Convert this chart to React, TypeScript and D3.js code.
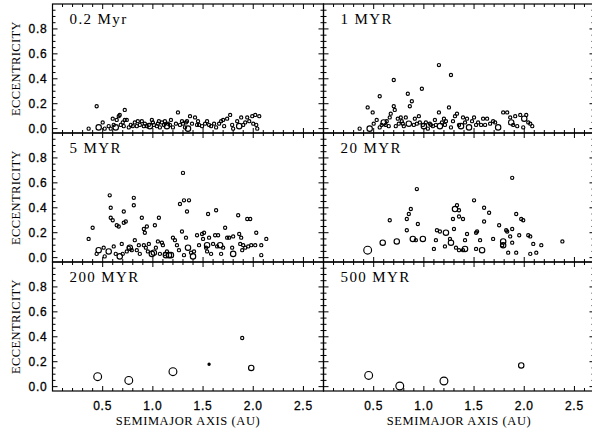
import React from 'react';
import * as d3 from 'd3';

type P = [number, number, number]; // [semimajor axis AU, eccentricity, size class]

const panelTitles = ['0.2 Myr', '1 MYR', '5 MYR', '20 MYR', '200 MYR', '500 MYR'];
const yTickValues = [0, 0.2, 0.4, 0.6, 0.8];
const yTickLabels = ['0.0', '0.2', '0.4', '0.6', '0.8'];
const xTickValues = [0.5, 1.0, 1.5, 2.0, 2.5];
const xTickLabels = ['0.5', '1.0', '1.5', '2.0', '2.5'];
const xAxisTitle = 'SEMIMAJOR AXIS (AU)';
const yAxisTitle = 'ECCENTRICITY';

const t02: P[] = [
  [0.36, 0.0, 1], [0.44, 0.18, 1], [0.46, 0.01, 2], [0.5, 0.05, 1], [0.52, 0.0, 1], [0.56, 0.02, 1],
  [0.58, 0.0, 1], [0.61, 0.03, 1], [0.63, 0.01, 2], [0.64, 0.07, 1], [0.66, 0.1, 1], [0.67, 0.11, 1],
  [0.68, 0.03, 1], [0.71, 0.02, 1], [0.72, 0.15, 1], [0.72, 0.07, 1], [0.74, 0.07, 1], [0.76, 0.01, 1],
  [0.78, 0.03, 1], [0.8, 0.02, 1], [0.82, 0.05, 1], [0.84, 0.02, 1], [0.87, 0.03, 1], [0.89, 0.06, 1],
  [0.91, 0.02, 1], [0.92, 0.04, 1], [0.94, 0.02, 1], [0.96, 0.03, 1], [0.97, 0.02, 2], [1.0, 0.05, 1],
  [1.01, 0.03, 1], [1.04, 0.02, 1], [1.05, 0.04, 1], [1.07, 0.01, 1], [1.09, 0.05, 1], [1.11, 0.03, 1],
  [1.12, 0.06, 1], [1.14, 0.02, 2], [1.15, 0.04, 1], [1.17, 0.03, 1], [1.2, 0.01, 1], [1.23, 0.04, 1],
  [1.25, 0.13, 1], [1.27, 0.03, 1], [1.29, 0.06, 1], [1.3, 0.04, 1], [1.32, 0.01, 1], [1.34, 0.06, 1],
  [1.35, 0.0, 2], [1.37, 0.1, 1], [1.39, 0.04, 1], [1.42, 0.09, 1], [1.44, 0.03, 1], [1.46, 0.03, 1],
  [1.49, 0.02, 1], [1.54, 0.06, 1], [1.56, 0.03, 1], [1.58, 0.02, 1], [1.61, 0.04, 1], [1.63, 0.01, 1],
  [1.66, 0.04, 1], [1.68, 0.06, 1], [1.71, 0.02, 1], [1.74, 0.08, 1], [1.77, 0.11, 1], [1.79, 0.03, 1],
  [1.8, 0.0, 1], [1.84, 0.06, 1], [1.86, 0.02, 2], [1.88, 0.09, 1], [1.9, 0.03, 1], [1.94, 0.09, 1],
  [1.96, 0.06, 1], [1.99, 0.1, 1], [2.02, 0.11, 1], [2.03, 0.03, 1], [2.04, 0.0, 1], [2.06, 0.1, 1],
  [0.7, 0.05, 1], [0.85, 0.06, 1], [0.99, 0.07, 1], [1.18, 0.07, 1], [1.33, 0.05, 1], [1.52, 0.04, 1],
  [1.7, 0.07, 1], [1.92, 0.05, 1], [2.0, 0.04, 1], [0.6, 0.08, 1], [1.06, 0.06, 1], [1.45, 0.06, 1],
];

const t1: P[] = [
  [0.36, 0.0, 1], [0.44, 0.17, 1], [0.46, 0.0, 2], [0.49, 0.13, 1], [0.5, 0.04, 1], [0.53, 0.07, 1],
  [0.56, 0.26, 1], [0.56, 0.01, 1], [0.58, 0.03, 1], [0.6, 0.05, 2], [0.62, 0.03, 1], [0.65, 0.02, 1],
  [0.66, 0.09, 1], [0.67, 0.12, 1], [0.7, 0.39, 1], [0.7, 0.18, 1], [0.71, 0.15, 1], [0.72, 0.02, 1],
  [0.74, 0.08, 1], [0.75, 0.04, 1], [0.77, 0.09, 1], [0.79, 0.04, 1], [0.8, 0.02, 1], [0.82, 0.09, 1],
  [0.84, 0.28, 1], [0.85, 0.04, 2], [0.86, 0.18, 1], [0.88, 0.22, 1], [0.9, 0.03, 1], [0.91, 0.08, 1],
  [0.93, 0.04, 1], [0.95, 0.1, 1], [0.98, 0.32, 1], [0.99, 0.03, 1], [1.0, 0.02, 2], [1.02, 0.05, 1],
  [1.04, 0.0, 1], [1.07, 0.03, 1], [1.09, 0.02, 1], [1.11, 0.07, 1], [1.12, 0.03, 1], [1.15, 0.51, 1],
  [1.15, 0.13, 1], [1.16, 0.02, 2], [1.18, 0.05, 1], [1.21, 0.03, 1], [1.22, 0.06, 1], [1.25, 0.17, 1],
  [1.27, 0.43, 1], [1.27, 0.01, 1], [1.29, 0.06, 1], [1.31, 0.1, 1], [1.33, 0.12, 1], [1.35, 0.03, 1],
  [1.37, 0.02, 2], [1.39, 0.09, 1], [1.41, 0.05, 1], [1.43, 0.08, 1], [1.45, 0.01, 2], [1.48, 0.06, 1],
  [1.5, 0.09, 1], [1.52, 0.03, 1], [1.54, 0.05, 1], [1.57, 0.03, 1], [1.59, 0.08, 1], [1.61, 0.03, 1],
  [1.63, 0.08, 1], [1.66, 0.04, 1], [1.69, 0.06, 1], [1.71, 0.05, 1], [1.74, 0.01, 2], [1.79, 0.13, 1],
  [1.83, 0.13, 1], [1.86, 0.09, 1], [1.87, 0.05, 2], [1.89, 0.03, 1], [1.91, 0.1, 1], [1.93, 0.02, 1],
  [1.96, 0.11, 1], [1.99, 0.01, 1], [2.0, 0.08, 2], [2.02, 0.11, 1], [2.04, 0.05, 1], [2.06, 0.04, 1],
  [2.08, 0.02, 1], [0.63, 0.06, 1], [0.78, 0.06, 1], [0.96, 0.05, 1], [1.06, 0.04, 1], [1.2, 0.08, 1],
];

const t5: P[] = [
  [0.36, 0.15, 1], [0.4, 0.24, 1], [0.44, 0.03, 1], [0.46, 0.06, 2], [0.51, 0.08, 1], [0.52, 0.01, 1],
  [0.56, 0.05, 2], [0.57, 0.5, 1], [0.58, 0.4, 1], [0.58, 0.32, 1], [0.6, 0.3, 1], [0.61, 0.09, 1],
  [0.63, 0.03, 1], [0.64, 0.26, 1], [0.66, 0.25, 1], [0.67, 0.01, 2], [0.69, 0.11, 1], [0.7, 0.03, 1],
  [0.71, 0.37, 1], [0.71, 0.28, 1], [0.73, 0.29, 1], [0.74, 0.05, 1], [0.76, 0.08, 1], [0.77, 0.08, 2],
  [0.79, 0.06, 1], [0.81, 0.48, 1], [0.81, 0.42, 1], [0.82, 0.14, 1], [0.84, 0.06, 1], [0.86, 0.1, 1],
  [0.87, 0.03, 1], [0.89, 0.32, 1], [0.91, 0.23, 1], [0.91, 0.1, 1], [0.92, 0.2, 1], [0.93, 0.08, 1],
  [0.94, 0.25, 1], [0.95, 0.05, 1], [0.96, 0.11, 1], [0.99, 0.03, 2], [1.01, 0.04, 2], [1.02, 0.26, 1],
  [1.03, 0.08, 1], [1.05, 0.13, 1], [1.06, 0.32, 1], [1.07, 0.03, 1], [1.09, 0.12, 1], [1.1, 0.1, 1],
  [1.12, 0.03, 1], [1.13, 0.02, 2], [1.14, 0.05, 1], [1.16, 0.02, 2], [1.18, 0.02, 2], [1.2, 0.16, 1],
  [1.22, 0.14, 1], [1.24, 0.1, 1], [1.26, 0.06, 1], [1.27, 0.43, 1], [1.29, 0.21, 1], [1.3, 0.68, 1],
  [1.31, 0.46, 1], [1.31, 0.02, 1], [1.33, 0.16, 1], [1.34, 0.37, 1], [1.35, 0.08, 2], [1.36, 0.46, 1],
  [1.38, 0.04, 1], [1.4, 0.01, 2], [1.41, 0.05, 1], [1.44, 0.18, 1], [1.46, 0.1, 1], [1.49, 0.19, 1],
  [1.5, 0.15, 1], [1.51, 0.2, 1], [1.53, 0.08, 1], [1.54, 0.1, 2], [1.54, 0.05, 1], [1.55, 0.35, 1],
  [1.56, 0.16, 1], [1.58, 0.03, 1], [1.6, 0.11, 1], [1.62, 0.18, 1], [1.63, 0.38, 1], [1.64, 0.09, 1],
  [1.65, 0.18, 1], [1.67, 0.1, 2], [1.68, 0.03, 1], [1.7, 0.08, 1], [1.72, 0.24, 1], [1.74, 0.16, 1],
  [1.76, 0.16, 1], [1.79, 0.08, 1], [1.8, 0.03, 2], [1.8, 0.17, 1], [1.85, 0.34, 1], [1.86, 0.19, 1],
  [1.87, 0.11, 1], [1.88, 0.16, 1], [1.89, 0.06, 1], [1.9, 0.1, 1], [1.92, 0.08, 1], [1.94, 0.31, 1],
  [1.95, 0.09, 1], [1.97, 0.31, 1], [1.98, 0.1, 1], [2.02, 0.1, 1], [2.03, 0.2, 1], [2.08, 0.1, 1],
  [2.08, 0.02, 1], [2.13, 0.15, 1],
];

const t20: P[] = [
  [0.44, 0.06, 3], [0.59, 0.12, 2], [0.66, 0.3, 1], [0.73, 0.13, 2], [0.83, 0.22, 1], [0.83, 0.31, 1],
  [0.85, 0.35, 1], [0.87, 0.39, 1], [0.89, 0.15, 2], [0.92, 0.14, 1], [0.93, 0.55, 1], [0.94, 0.27, 1],
  [0.99, 0.15, 2], [1.1, 0.07, 1], [1.13, 0.22, 1], [1.16, 0.21, 1], [1.12, 0.14, 1], [1.21, 0.09, 1],
  [1.22, 0.2, 2], [1.26, 0.15, 1], [1.27, 0.12, 2], [1.29, 0.31, 1], [1.3, 0.23, 1], [1.31, 0.39, 2],
  [1.32, 0.08, 1], [1.33, 0.42, 1], [1.35, 0.38, 1], [1.35, 0.33, 1], [1.35, 0.06, 1], [1.39, 0.06, 1],
  [1.39, 0.31, 1], [1.41, 0.14, 1], [1.41, 0.07, 2], [1.43, 0.19, 1], [1.52, 0.2, 1], [1.53, 0.21, 1],
  [1.52, 0.07, 1], [1.5, 0.46, 1], [1.56, 0.14, 1], [1.58, 0.06, 2], [1.6, 0.4, 1], [1.6, 0.29, 1],
  [1.65, 0.36, 1], [1.69, 0.15, 1], [1.75, 0.26, 1], [1.78, 0.1, 1], [1.79, 0.1, 2], [1.79, 0.13, 2],
  [1.82, 0.22, 1], [1.83, 0.21, 1], [1.84, 0.04, 1], [1.86, 0.17, 1], [1.88, 0.23, 1], [1.88, 0.64, 1],
  [1.88, 0.12, 1], [1.92, 0.04, 1], [1.92, 0.35, 1], [1.95, 0.18, 1], [1.97, 0.31, 1], [1.99, 0.3, 1],
  [2.04, 0.18, 1], [2.06, 0.17, 1], [2.06, 0.03, 1], [2.09, 0.11, 1], [2.12, 0.04, 1], [2.17, 0.1, 1],
  [2.38, 0.13, 1],
];

const t200: P[] = [
  [0.45, 0.08, 3], [0.76, 0.05, 3], [1.2, 0.12, 3], [1.56, 0.18, 0], [1.89, 0.39, 1], [1.98, 0.15, 2],
];

const t500: P[] = [
  [0.45, 0.09, 3], [0.76, 0.005, 3], [1.2, 0.045, 3], [1.97, 0.17, 2],
];

const panelData: P[][] = [t02, t1, t5, t20, t200, t500];

export default function App() {
  const W = 592;
  const H = 431;
  const colX = [52.5, 323.5];
  const pw = 271;
  const rowY = [4, 133, 262];
  const ph = 129;

  const x = d3.scaleLinear().domain([0, 2.7]).range([0, pw]);
  const y = d3.scaleLinear().domain([-0.035, 1.0]).range([ph, 0]);
  const rScale = d3.scaleOrdinal<number, number>().domain([0, 1, 2, 3]).range([1.1, 1.6, 2.7, 3.9]);

  const xMinor = d3.range(1, 27).map((i) => i / 10).filter((v) => Math.round(v * 10) % 5 !== 0);
  const yMinor = d3.range(1, 20).map((i) => i * 0.05).filter((v) => Math.round(v * 100) % 20 !== 0);

  const tickFont = "'Liberation Sans', Arial, sans-serif";
  const serif = "'Liberation Serif', 'Times New Roman', serif";

  const panels = panelTitles.map((title, i) => {
    const col = i % 2;
    const row = Math.floor(i / 2);
    const ox = colX[col];
    const oy = rowY[row];
    const majLen = 5;
    const minLen = 3;
    return (
      <g key={i} transform={`translate(${ox},${oy})`}>
        <rect x={0} y={0} width={pw} height={ph} fill="none" stroke="#000" strokeWidth={1.2} />
        {xTickValues.map((v) => (
          <g key={'xM' + v}>
            <line x1={x(v)} x2={x(v)} y1={ph} y2={ph - majLen} stroke="#000" strokeWidth={1} />
            <line x1={x(v)} x2={x(v)} y1={0} y2={majLen} stroke="#000" strokeWidth={1} />
          </g>
        ))}
        {xMinor.map((v) => (
          <g key={'xm' + v}>
            <line x1={x(v)} x2={x(v)} y1={ph} y2={ph - minLen} stroke="#000" strokeWidth={1} />
            <line x1={x(v)} x2={x(v)} y1={0} y2={minLen} stroke="#000" strokeWidth={1} />
          </g>
        ))}
        {yTickValues.map((v) => (
          <g key={'yM' + v}>
            <line x1={0} x2={majLen} y1={y(v)} y2={y(v)} stroke="#000" strokeWidth={1} />
            <line x1={pw} x2={pw - majLen} y1={y(v)} y2={y(v)} stroke="#000" strokeWidth={1} />
          </g>
        ))}
        {yMinor.map((v) => (
          <g key={'ym' + v}>
            <line x1={0} x2={minLen} y1={y(v)} y2={y(v)} stroke="#000" strokeWidth={1} />
            <line x1={pw} x2={pw - minLen} y1={y(v)} y2={y(v)} stroke="#000" strokeWidth={1} />
          </g>
        ))}
        {panelData[i].map((d, k) => (
          <circle
            key={k}
            cx={x(d[0])}
            cy={y(d[1])}
            r={rScale(d[2])}
            fill={d[2] === 0 ? '#000' : 'none'}
            stroke="#000"
            strokeWidth={1.15}
          />
        ))}
        <text x={17} y={20} fontFamily={serif} fontSize={15} letterSpacing={1.4} fill="#000">
          {title}
        </text>
        {col === 0 &&
          yTickValues.map((v, k) => (
            <text
              key={'yl' + v}
              x={-5}
              y={y(v)}
              dy="0.36em"
              textAnchor="end"
              fontFamily={tickFont}
              fontSize={12}
              letterSpacing={0.8}
              stroke="#000"
              strokeWidth={0.3}
              fill="#000"
            >
              {yTickLabels[k]}
            </text>
          ))}
        {col === 0 && (
          <text
            transform={`translate(${16 - ox},${ph / 2}) rotate(-90)`}
            textAnchor="middle"
            dy="0.35em"
            fontFamily={serif}
            fontSize={12.5}
            letterSpacing={0.4}
            fill="#000"
          >
            {yAxisTitle}
          </text>
        )}
        {row === 2 &&
          xTickValues.map((v, k) => (
            <text
              key={'xl' + v}
              x={x(v)}
              y={ph + 18.5}
              textAnchor="middle"
              fontFamily={tickFont}
              fontSize={12}
              letterSpacing={0.8}
              stroke="#000"
              strokeWidth={0.3}
              fill="#000"
            >
              {xTickLabels[k]}
            </text>
          ))}
        {row === 2 && (
          <text
            x={pw / 2}
            y={ph + 34}
            textAnchor="middle"
            fontFamily={serif}
            fontSize={12.5}
            letterSpacing={0.6}
            fill="#000"
          >
            {xAxisTitle}
          </text>
        )}
      </g>
    );
  });

  return (
    <svg
      width={W}
      height={H}
      viewBox={`0 0 ${W} ${H}`}
      style={{ position: 'absolute', left: 0, top: 0, background: '#fff' }}
    >
      <rect x={0} y={0} width={W} height={H} fill="#fff" />
      {panels}
    </svg>
  );
}
